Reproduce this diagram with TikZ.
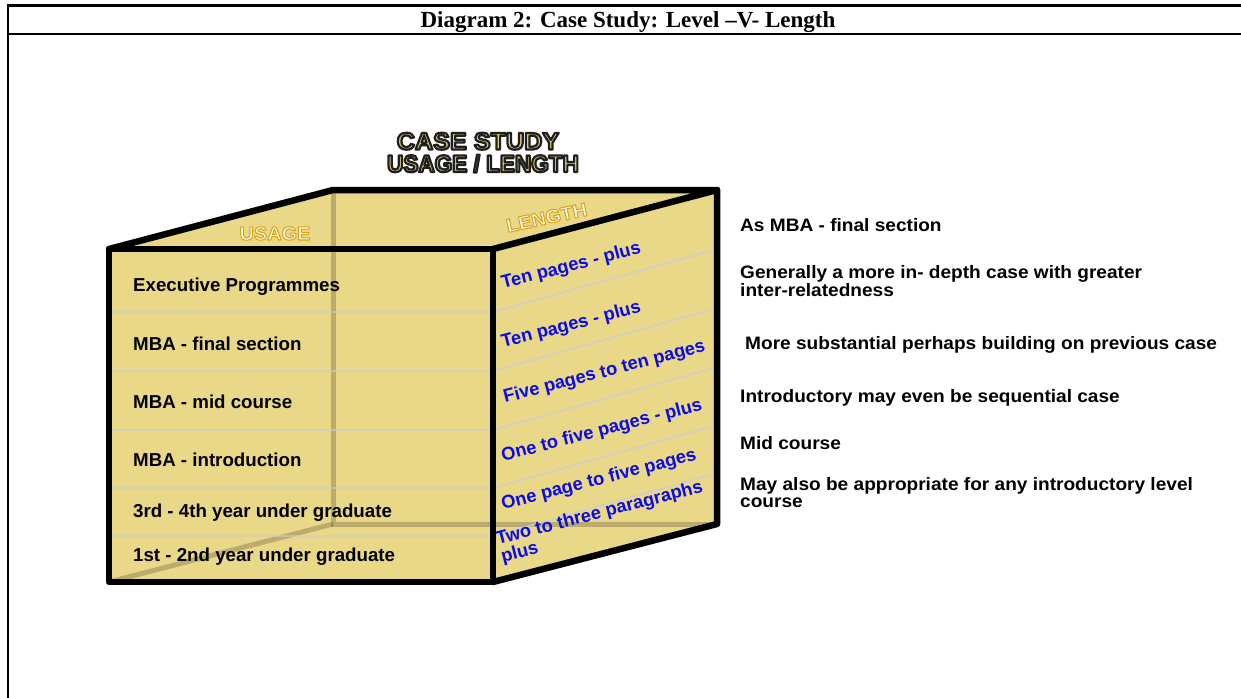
\documentclass[tikz,border=0pt]{standalone}
\usepackage{fontspec}
\setmainfont{Liberation Serif}
\newfontfamily\arialf{Liberation Sans}
\newfontfamily\notef{Liberation Sans}[FakeStretch=1.06]
\newfontfamily\wideA{Liberation Sans}[FakeStretch=1.05]
\newfontfamily\wideB{Liberation Sans}[FakeStretch=0.94]
\newfontfamily\wideC{Liberation Sans}[FakeStretch=1.05]
\definecolor{cubefill}{RGB}{234,216,137}
\definecolor{sepgray}{RGB}{205,205,205}
\definecolor{labelblue}{RGB}{10,10,235}
\definecolor{titlegold}{RGB}{230,205,118}
\definecolor{labelcream}{RGB}{255,250,232}
\newcommand\strokedtext[4]{{\color{#1}\special{pdf:literal direct 1 j #3 w #2 RG 2 Tr}#4\special{pdf:literal direct 0 Tr}}}
\tikzset{
  frameline/.style={line width=2.7pt},
  hiddenedge/.style={line width=5pt, black, opacity=0.2},
  rowsep/.style={sepgray, line width=1.4pt},
  cubeedge/.style={line width=6.5pt, line join=round, line cap=round},
  usagetext/.style={font=\arialf\bfseries\fontsize{18.7}{20}\selectfont, anchor=base west, inner sep=0pt},
  notetext/.style={font=\notef\bfseries\fontsize{18}{17}\selectfont, anchor=base west, inner sep=0pt},
  lengthtext/.style={font=\arialf\bfseries\fontsize{18.3}{17}\selectfont, text=labelblue, anchor=base west, inner sep=0pt, rotate=14.5},
  bigtitle/.style={anchor=base, inner sep=0pt},
  facelabel/.style={font=\wideC\bfseries\fontsize{19}{19}\selectfont, anchor=base, inner sep=0pt}
}
\begin{document}
\begin{tikzpicture}[x=1pt,y=-1pt]
\useasboundingbox (0,0) rectangle (1241,698);
% frame
\coordinate (ftr) at (1241,5.5);
\coordinate (ftl) at (8,5.5);
\coordinate (fbl) at (8,698);
\coordinate (fml) at (8,34);
\coordinate (fmr) at (1241,34);
\draw[frameline] (ftr) -- (ftl) -- (fbl);
\draw[frameline] (fml) -- (fmr);
\node[font=\bfseries\fontsize{23}{24}\selectfont, inner sep=0pt, anchor=base] (title) at (628,27.5) {Diagram 2: Case Study: Level –V- Length};
% cube corners
\coordinate (A) at (109,249);
\coordinate (B) at (493,249);
\coordinate (C) at (493,582);
\coordinate (D) at (109,582);
\coordinate (E) at (333,190);
\coordinate (F) at (717,190);
\coordinate (G) at (717,524);
\coordinate (H) at (333,524);
\fill[cubefill] (A) -- (B) -- (C) -- (D) -- cycle;
\fill[cubefill] (A) -- (E) -- (F) -- (B) -- cycle;
\fill[cubefill] (B) -- (F) -- (G) -- (C) -- cycle;
\draw[hiddenedge] (E) -- (H) -- (G);
\draw[hiddenedge] (H) -- (D);
\foreach \yy in {312,371,430,488,536}{
  \draw[rowsep] (112,\yy) -- (493,\yy) -- (717,\yy-63);
}
% front face labels
\node[usagetext] (u1) at (133,291.5) {Executive Programmes};
\node[usagetext] (u2) at (133,350) {MBA - final section};
\node[usagetext] (u3) at (133,408.3) {MBA - mid course};
\node[usagetext] (u4) at (133,466) {MBA - introduction};
\node[usagetext] (u5) at (133,517.3) {3rd - 4th year under graduate};
\node[usagetext] (u6) at (133,561.7) {1st - 2nd year under graduate};
% side face labels
\node[lengthtext] (l1) at (503,289) {Ten pages - plus};
\node[lengthtext] (l2) at (503,348) {Ten pages - plus};
\node[lengthtext] (l3) at (505,403) {Five pages to ten pages};
\node[lengthtext] (l4) at (503,461.5) {One to five pages - plus};
\node[lengthtext] (l5) at (503,510) {One page to five pages};
\node[lengthtext] (l6) at (498,545) {\begin{tabular}[t]{@{}l@{}}Two to three paragraphs\\plus\end{tabular}};
% cube edges
\draw[cubeedge] (A) -- (B) -- (C) -- (D) -- cycle;
\draw[cubeedge] (A) -- (E) -- (F) -- (B);
\draw[cubeedge] (F) -- (G) -- (C);
% face titles
\node[facelabel] (usage) at (275,240) {\strokedtext{labelcream}{0.85 0.63 0.08}{1.0}{USAGE}};
\node[facelabel, rotate=12] (length) at (548,224) {\strokedtext{labelcream}{0.85 0.63 0.08}{1.0}{LENGTH}};
% main title
\node[bigtitle, font=\wideA\bfseries\fontsize{24}{25}\selectfont] (cs) at (478,149.5) {\strokedtext{titlegold}{0.12 0.12 0.12}{2.2}{CASE STUDY}};
\node[bigtitle, font=\wideB\bfseries\fontsize{24}{25}\selectfont] (ul) at (483,172) {\strokedtext{titlegold}{0.12 0.12 0.12}{2.2}{USAGE / LENGTH}};
% notes
\node[notetext] (n1) at (740,231) {As MBA - final section};
\node[notetext] (n2) at (740,278.3) {\begin{tabular}[t]{@{}l@{}}Generally a more in- depth case with greater\\inter-relatedness\end{tabular}};
\node[notetext] (n3) at (745,349) {More substantial perhaps building on previous case};
\node[notetext] (n4) at (740,402.3) {Introductory may even be sequential case};
\node[notetext] (n5) at (740,449) {Mid course};
\node[notetext] (n6) at (740,490) {\begin{tabular}[t]{@{}l@{}}May also be appropriate for any introductory level\\course\end{tabular}};
\end{tikzpicture}
\end{document}
